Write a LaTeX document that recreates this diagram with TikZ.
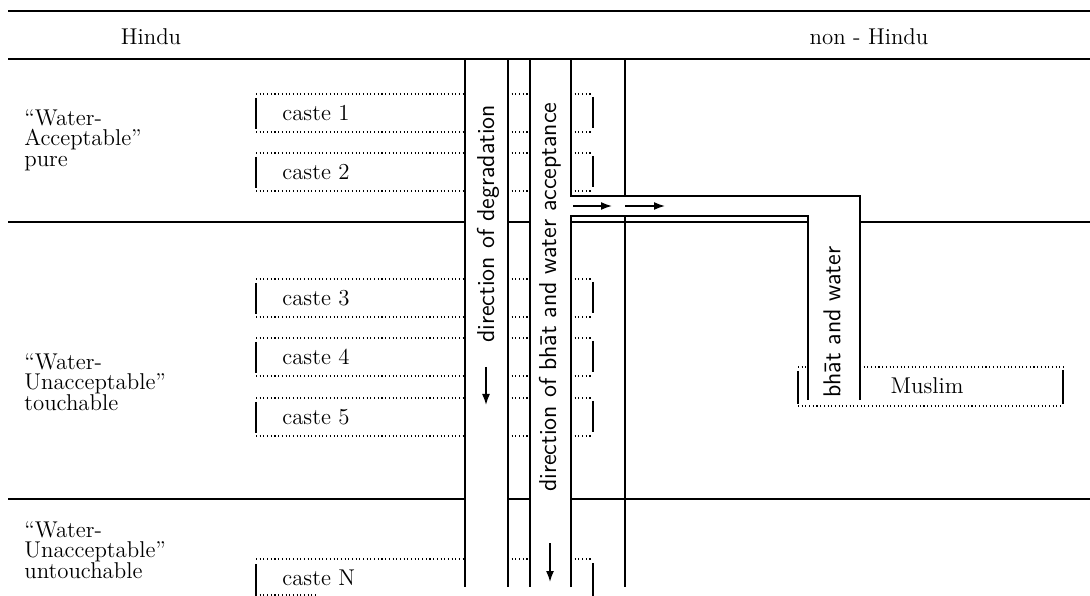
\documentclass[tikz,border=0pt]{standalone}
\usetikzlibrary{arrows.meta}
\setlength{\lineskiplimit}{-20pt}

\begin{document}
\begin{tikzpicture}[
x=0.2mm, y=-0.2mm,
font={\fontsize{13pt}{11.6pt}\selectfont},
rule/.style={line width=1pt},
dotline/.style={line width=0.6pt, dash pattern=on 0.6pt off 1.5pt},
edgeline/.style={line width=1.1pt},
rowlabel/.style={anchor=west, align=left, inner sep=0pt},
castename/.style={anchor=west, inner sep=0pt},
vtext/.style={rotate=90, anchor=west, inner sep=0pt, font={\sffamily\fontsize{13.9pt}{15pt}\selectfont}},
arrow/.style={-{Latex[length=2.2mm,width=1.6mm]}, line width=0.9pt}
]
\useasboundingbox (0,0) rectangle (1090,596);

% horizontal rules
\draw[rule] (8,11) -- (1090,11);
\draw[rule] (8,59) -- (1090,59);
\draw[rule] (8,222) -- (465,222) (508,222) -- (530,222) (571,222) -- (808,222) (860,222) -- (1090,222);
\draw[rule] (8,499) -- (465,499) (508,499) -- (530,499) (571,499) -- (1090,499);

% columns and the branch to the right
\draw[rule] (465,59) -- (465,587) (508,59) -- (508,587) (530,59) -- (530,587);
\draw[rule] (571,587) -- (571,216) -- (808,216) -- (808,400);
\draw[rule] (571,59) -- (571,196) -- (860,196) -- (860,400);
\draw[rule] (625,59) -- (625,196) (625,216) -- (625,587);

% caste boxes
\foreach \t/\n in {94/1,153/2,279/3,338/4,398/5}{
  \draw[dotline] (256,\t) -- (465,\t) (508,\t) -- (530,\t) (571,\t) -- (593,\t);
  \draw[dotline] (256,\t+38) -- (465,\t+38) (508,\t+38) -- (530,\t+38) (571,\t+38) -- (593,\t+38);
  \draw[edgeline] (256,\t+4) -- (256,\t+35) (593,\t+3) -- (593,\t+34);
  \node[castename] (c\n) at (282,\t+19) {caste \n};
}
\draw[dotline] (256,559) -- (465,559) (508,559) -- (530,559) (571,559) -- (593,559) (256,595) -- (318,595);
\draw[edgeline] (256,564) -- (256,596) (593,563) -- (593,596);
\node[castename] (cN) at (282,578) {caste N};

\node (hindu) at (151,37) {Hindu};
\node (nonhindu) at (869,37) {non - Hindu};
\node[rowlabel] (pure) at (24,140) {``Water-\\Acceptable''\\pure};
\node[rowlabel] (touch) at (24,382) {``Water-\\Unacceptable''\\touchable};
\node[rowlabel] (untouch) at (24,550) {``Water-\\Unacceptable''\\untouchable};

\node[vtext] (degr) at (488,343) {direction of degradation};
\node[vtext] (accept) at (550,492) {direction of bh\={a}t and water acceptance};
\node[vtext] (bhat) at (832,398) {bh\={a}t and water};

% Muslim box
\node (muslim) at (927,386) {Muslim};
\draw[dotline] (798,367) -- (808,367) (860,367) -- (1063,367) (798,406) -- (1063,406);
\draw[edgeline] (798,371) -- (798,404) (1063,370) -- (1063,404);

\coordinate (degfrom) at (486,367);
\coordinate (degto) at (486,405);
\coordinate (accfrom) at (550,543);
\coordinate (accto) at (550,582);
\coordinate (flowa) at (573,206);
\coordinate (flowb) at (612,206);
\coordinate (flowc) at (625,206);
\coordinate (flowd) at (665,206);
\draw[arrow] (degfrom) -- (degto);
\draw[arrow] (accfrom) -- (accto);
\draw[arrow] (flowa) -- (flowb);
\draw[arrow] (flowc) -- (flowd);
\end{tikzpicture}
\end{document}
